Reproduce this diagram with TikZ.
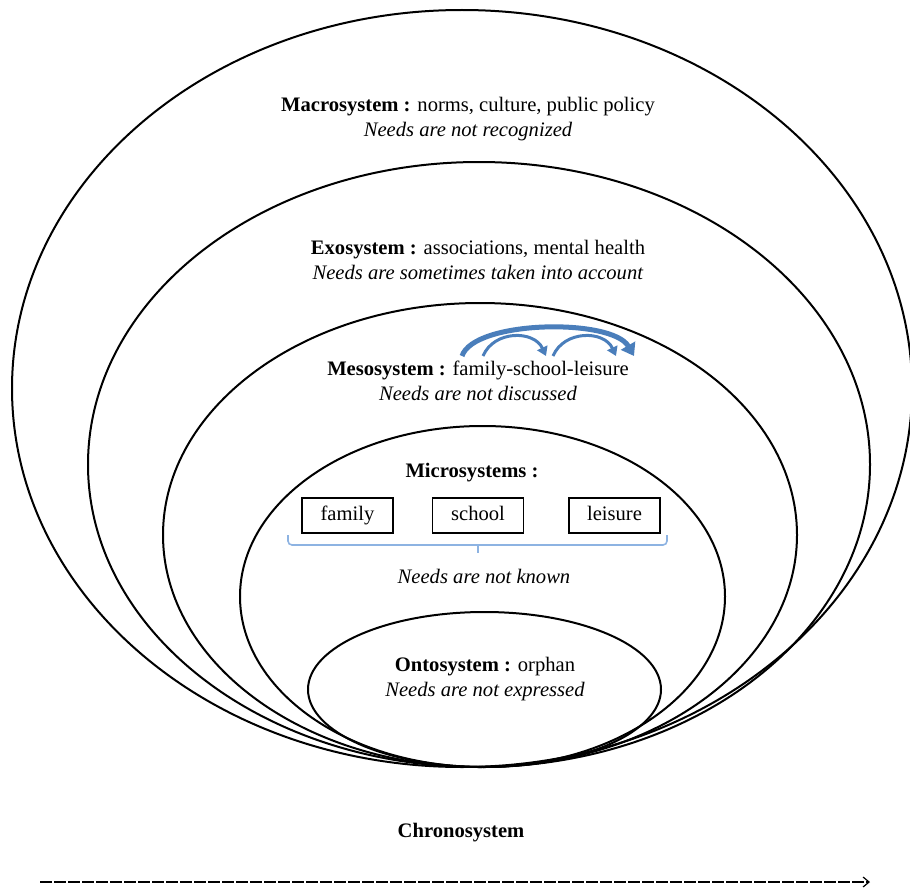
\documentclass[tikz,border=0pt]{standalone}
\usepackage{fontspec}
\setmainfont{Liberation Serif}
\usepackage{xcolor}
\usetikzlibrary{arrows.meta, positioning}

\definecolor{linkblue}{HTML}{4A7EBB}
\definecolor{bracketblue}{HTML}{8DB3E2}

\tikzset{
  sysring/.style={line width=1pt, black},
  systext/.style={align=center, font=\fontsize{10.3}{12.5}\selectfont, inner sep=1pt},
  sysbox/.style={draw, line width=0.6pt, minimum width=45.5pt, minimum height=17.5pt,
    text height=7pt, text depth=2pt, font=\fontsize{10.3}{12}\selectfont},
  linkarrow/.style={linkblue}
}

\begin{document}
\begin{tikzpicture}[x=0.5pt, y=-0.5pt]
  \useasboundingbox (0,0) rectangle (910,888);

  % === Ellipses emboitees ===
  \draw[sysring] (462,388.5) ellipse [x radius=450, y radius=378.5];
  \draw[sysring] (479,464.5) ellipse [x radius=391, y radius=302.5];
  \draw[sysring] (480,535) ellipse [x radius=317, y radius=232];
  \draw[sysring] (482.5,596.5) ellipse [x radius=242.5, y radius=170.5];
  \draw[sysring] (484.5,689.5) ellipse [x radius=176.5, y radius=77.5];

  % === Textes des systemes ===
  \node[systext] (macro) at (468,119.5) {\textbf{Macrosystem :} norms, culture, public policy\\\textit{Needs are not recognized}};
  \node[systext] (exo) at (478,259.5) {\textbf{Exosystem :} associations, mental health\\\textit{Needs are sometimes taken into account}};
  \node[systext] (meso) at (478,381) {\textbf{Mesosystem :} family-school-leisure\\\textit{Needs are not discussed}};
  \node[systext] (micro) at (472,473) {\textbf{Microsystems :}};
  \node[systext] (known) at (484,576) {\textit{Needs are not known}};
  \node[systext] (onto) at (485,679.5) {\textbf{Ontosystem :} orphan\\\textit{Needs are not expressed}};

  % === Microsystemes ===
  \node[sysbox] (family) at (347.5,515.5) {family};
  \node[sysbox] (school) at (478,515.5) {school};
  \node[sysbox] (leisure) at (614.5,515.5) {leisure};

  % accolade sous les cadres
  \draw[bracketblue, line width=0.8pt, rounded corners=2pt]
    (288,535) -- (288,545) -- (667,545) -- (667,535);
  \draw[bracketblue, line width=0.8pt] (478,545) -- (478,553);

  % === Liens du mesosysteme ===
  \draw[linkarrow, line width=2.5pt, -{Triangle[length=6pt, width=8pt]}]
    (462,356) .. controls (474,320) and (612,318) .. (634,356);
  \draw[linkarrow, line width=1.5pt, -{Triangle[length=4.5pt, width=5.5pt]}]
    (483,356) .. controls (494,330) and (534,330) .. (546,356);
  \draw[linkarrow, line width=1.5pt, -{Triangle[length=4.5pt, width=5.5pt]}]
    (553,356) .. controls (564,330) and (604,330) .. (616,356);

  % === Chronosysteme ===
  \node[systext, font=\fontsize{10.3}{12}\selectfont\bfseries] (chrono) at (461,833) {Chronosystem};
  \coordinate (tstart) at (40,882);
  \coordinate (tend) at (870,882);
  \draw[line width=0.6pt, dash pattern=on 6pt off 1pt, -{Straight Barb[length=3pt, width=5pt]}] (tstart) -- (tend);
\end{tikzpicture}
\end{document}
